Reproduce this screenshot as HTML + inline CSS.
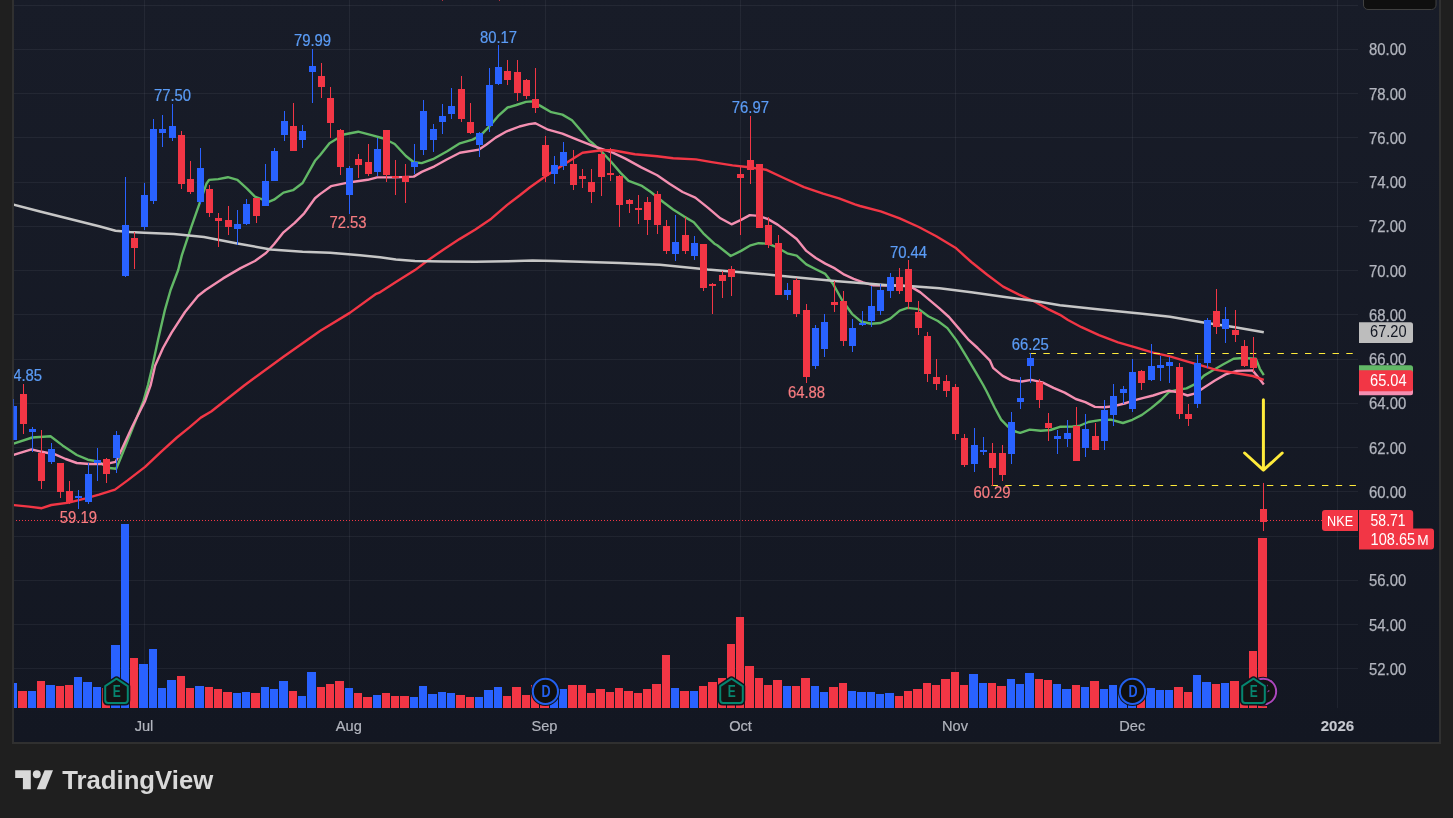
<!DOCTYPE html>
<html lang="en"><head><meta charset="utf-8"><title>NKE chart</title>
<style>html,body{margin:0;padding:0;background:#1f1f1f;overflow:hidden}body{width:1453px;height:818px;position:relative;font-family:"Liberation Sans",sans-serif}svg{display:block;position:absolute;left:0;top:0;will-change:transform}text{font-family:"Liberation Sans",sans-serif}</style>
</head><body>
<svg width="1453" height="818" viewBox="0 0 1453 818">
<defs><linearGradient id="bg" x1="0" y1="0" x2="0" y2="1"><stop offset="0" stop-color="#181c28"/><stop offset="1" stop-color="#131722"/></linearGradient>
<clipPath id="pane"><rect x="14" y="0" width="1344" height="708"/></clipPath></defs>
<rect x="0" y="0" width="1453" height="818" fill="#1f1f1f"/>
<rect x="12" y="-4" width="1429" height="748" fill="#303030" shape-rendering="crispEdges"/>
<rect x="14" y="-4" width="1425" height="746" fill="url(#bg)" shape-rendering="crispEdges"/>
<g stroke="rgba(240,243,250,0.06)" stroke-width="1" shape-rendering="crispEdges">
<line x1="14" y1="5.5" x2="1358" y2="5.5"/>
<line x1="14" y1="49.5" x2="1358" y2="49.5"/>
<line x1="14" y1="93.5" x2="1358" y2="93.5"/>
<line x1="14" y1="137.5" x2="1358" y2="137.5"/>
<line x1="14" y1="182.5" x2="1358" y2="182.5"/>
<line x1="14" y1="226.5" x2="1358" y2="226.5"/>
<line x1="14" y1="270.5" x2="1358" y2="270.5"/>
<line x1="14" y1="314.5" x2="1358" y2="314.5"/>
<line x1="14" y1="359.5" x2="1358" y2="359.5"/>
<line x1="14" y1="403.5" x2="1358" y2="403.5"/>
<line x1="14" y1="447.5" x2="1358" y2="447.5"/>
<line x1="14" y1="491.5" x2="1358" y2="491.5"/>
<line x1="14" y1="536.5" x2="1358" y2="536.5"/>
<line x1="14" y1="580.5" x2="1358" y2="580.5"/>
<line x1="14" y1="624.5" x2="1358" y2="624.5"/>
<line x1="14" y1="668.5" x2="1358" y2="668.5"/>
<line x1="144.5" y1="0" x2="144.5" y2="708"/>
<line x1="349.5" y1="0" x2="349.5" y2="708"/>
<line x1="545.5" y1="0" x2="545.5" y2="708"/>
<line x1="740.5" y1="0" x2="740.5" y2="708"/>
<line x1="955.5" y1="0" x2="955.5" y2="708"/>
<line x1="1132.5" y1="0" x2="1132.5" y2="708"/>
<line x1="1337.5" y1="0" x2="1337.5" y2="708"/>
</g>
<g shape-rendering="crispEdges" clip-path="url(#pane)">
<rect x="9" y="683" width="8" height="25" fill="#2962ff"/>
<rect x="18" y="691" width="9" height="17" fill="#f23645"/>
<rect x="28" y="691" width="8" height="17" fill="#2962ff"/>
<rect x="37" y="681" width="8" height="27" fill="#f23645"/>
<rect x="46" y="685" width="9" height="23" fill="#2962ff"/>
<rect x="56" y="686" width="8" height="22" fill="#f23645"/>
<rect x="65" y="685" width="8" height="23" fill="#f23645"/>
<rect x="74" y="677" width="8" height="31" fill="#2962ff"/>
<rect x="83" y="682" width="9" height="26" fill="#2962ff"/>
<rect x="93" y="687" width="8" height="21" fill="#2962ff"/>
<rect x="102" y="688" width="8" height="20" fill="#f23645"/>
<rect x="111" y="645" width="9" height="63" fill="#2962ff"/>
<rect x="121" y="524" width="8" height="184" fill="#2962ff"/>
<rect x="130" y="658" width="8" height="50" fill="#f23645"/>
<rect x="139" y="664" width="9" height="44" fill="#2962ff"/>
<rect x="149" y="649" width="8" height="59" fill="#2962ff"/>
<rect x="158" y="688" width="8" height="20" fill="#2962ff"/>
<rect x="167" y="680" width="9" height="28" fill="#2962ff"/>
<rect x="177" y="676" width="8" height="32" fill="#f23645"/>
<rect x="186" y="688" width="8" height="20" fill="#f23645"/>
<rect x="195" y="686" width="9" height="22" fill="#2962ff"/>
<rect x="205" y="687" width="8" height="21" fill="#f23645"/>
<rect x="214" y="689" width="8" height="19" fill="#f23645"/>
<rect x="223" y="692" width="9" height="16" fill="#f23645"/>
<rect x="233" y="693" width="8" height="15" fill="#2962ff"/>
<rect x="242" y="692" width="8" height="16" fill="#2962ff"/>
<rect x="251" y="693" width="9" height="15" fill="#f23645"/>
<rect x="261" y="687" width="8" height="21" fill="#2962ff"/>
<rect x="270" y="689" width="8" height="19" fill="#2962ff"/>
<rect x="279" y="681" width="9" height="27" fill="#2962ff"/>
<rect x="289" y="691" width="8" height="17" fill="#f23645"/>
<rect x="298" y="696" width="8" height="12" fill="#2962ff"/>
<rect x="307" y="672" width="9" height="36" fill="#2962ff"/>
<rect x="317" y="687" width="8" height="21" fill="#f23645"/>
<rect x="326" y="684" width="8" height="24" fill="#f23645"/>
<rect x="335" y="681" width="9" height="27" fill="#f23645"/>
<rect x="345" y="688" width="8" height="20" fill="#2962ff"/>
<rect x="354" y="693" width="8" height="15" fill="#f23645"/>
<rect x="363" y="697" width="9" height="11" fill="#f23645"/>
<rect x="373" y="695" width="8" height="13" fill="#2962ff"/>
<rect x="382" y="693" width="8" height="15" fill="#f23645"/>
<rect x="391" y="696" width="8" height="12" fill="#f23645"/>
<rect x="400" y="696" width="9" height="12" fill="#f23645"/>
<rect x="410" y="697" width="8" height="11" fill="#2962ff"/>
<rect x="419" y="686" width="8" height="22" fill="#2962ff"/>
<rect x="428" y="694" width="9" height="14" fill="#2962ff"/>
<rect x="438" y="692" width="8" height="16" fill="#2962ff"/>
<rect x="447" y="693" width="8" height="15" fill="#2962ff"/>
<rect x="456" y="695" width="9" height="13" fill="#f23645"/>
<rect x="466" y="697" width="8" height="11" fill="#f23645"/>
<rect x="475" y="697" width="8" height="11" fill="#2962ff"/>
<rect x="484" y="690" width="9" height="18" fill="#2962ff"/>
<rect x="494" y="687" width="8" height="21" fill="#2962ff"/>
<rect x="503" y="696" width="8" height="12" fill="#f23645"/>
<rect x="512" y="687" width="9" height="21" fill="#f23645"/>
<rect x="522" y="695" width="8" height="13" fill="#f23645"/>
<rect x="531" y="685" width="8" height="23" fill="#f23645"/>
<rect x="540" y="690" width="9" height="18" fill="#f23645"/>
<rect x="550" y="690" width="8" height="18" fill="#2962ff"/>
<rect x="559" y="689" width="8" height="19" fill="#2962ff"/>
<rect x="568" y="685" width="9" height="23" fill="#f23645"/>
<rect x="578" y="685" width="8" height="23" fill="#f23645"/>
<rect x="587" y="693" width="8" height="15" fill="#f23645"/>
<rect x="596" y="689" width="9" height="19" fill="#f23645"/>
<rect x="606" y="692" width="8" height="16" fill="#f23645"/>
<rect x="615" y="688" width="8" height="20" fill="#f23645"/>
<rect x="624" y="691" width="9" height="17" fill="#f23645"/>
<rect x="634" y="693" width="8" height="15" fill="#f23645"/>
<rect x="643" y="689" width="8" height="19" fill="#f23645"/>
<rect x="652" y="684" width="9" height="24" fill="#f23645"/>
<rect x="662" y="655" width="8" height="53" fill="#f23645"/>
<rect x="671" y="688" width="8" height="20" fill="#2962ff"/>
<rect x="680" y="691" width="9" height="17" fill="#f23645"/>
<rect x="690" y="691" width="8" height="17" fill="#2962ff"/>
<rect x="699" y="686" width="8" height="22" fill="#f23645"/>
<rect x="708" y="682" width="9" height="26" fill="#f23645"/>
<rect x="718" y="678" width="8" height="30" fill="#f23645"/>
<rect x="727" y="644" width="8" height="64" fill="#f23645"/>
<rect x="736" y="617" width="8" height="91" fill="#f23645"/>
<rect x="745" y="666" width="9" height="42" fill="#f23645"/>
<rect x="755" y="678" width="8" height="30" fill="#f23645"/>
<rect x="764" y="685" width="8" height="23" fill="#f23645"/>
<rect x="773" y="680" width="9" height="28" fill="#f23645"/>
<rect x="783" y="686" width="8" height="22" fill="#2962ff"/>
<rect x="792" y="686" width="8" height="22" fill="#f23645"/>
<rect x="801" y="678" width="9" height="30" fill="#f23645"/>
<rect x="811" y="686" width="8" height="22" fill="#2962ff"/>
<rect x="820" y="692" width="8" height="16" fill="#2962ff"/>
<rect x="829" y="687" width="9" height="21" fill="#f23645"/>
<rect x="839" y="683" width="8" height="25" fill="#f23645"/>
<rect x="848" y="691" width="8" height="17" fill="#2962ff"/>
<rect x="857" y="692" width="9" height="16" fill="#2962ff"/>
<rect x="867" y="692" width="8" height="16" fill="#2962ff"/>
<rect x="876" y="694" width="8" height="14" fill="#2962ff"/>
<rect x="885" y="693" width="9" height="15" fill="#2962ff"/>
<rect x="895" y="696" width="8" height="12" fill="#f23645"/>
<rect x="904" y="691" width="8" height="17" fill="#f23645"/>
<rect x="913" y="689" width="9" height="19" fill="#f23645"/>
<rect x="923" y="683" width="8" height="25" fill="#f23645"/>
<rect x="932" y="685" width="8" height="23" fill="#f23645"/>
<rect x="941" y="679" width="9" height="29" fill="#f23645"/>
<rect x="951" y="672" width="8" height="36" fill="#f23645"/>
<rect x="960" y="685" width="8" height="23" fill="#f23645"/>
<rect x="969" y="674" width="9" height="34" fill="#2962ff"/>
<rect x="979" y="683" width="8" height="25" fill="#2962ff"/>
<rect x="988" y="683" width="8" height="25" fill="#f23645"/>
<rect x="997" y="686" width="9" height="22" fill="#f23645"/>
<rect x="1007" y="679" width="8" height="29" fill="#2962ff"/>
<rect x="1016" y="684" width="8" height="24" fill="#2962ff"/>
<rect x="1025" y="673" width="9" height="35" fill="#2962ff"/>
<rect x="1035" y="679" width="8" height="29" fill="#f23645"/>
<rect x="1044" y="680" width="8" height="28" fill="#f23645"/>
<rect x="1053" y="684" width="8" height="24" fill="#2962ff"/>
<rect x="1062" y="689" width="9" height="19" fill="#2962ff"/>
<rect x="1072" y="685" width="8" height="23" fill="#f23645"/>
<rect x="1081" y="687" width="8" height="21" fill="#2962ff"/>
<rect x="1090" y="681" width="9" height="27" fill="#f23645"/>
<rect x="1100" y="689" width="8" height="19" fill="#2962ff"/>
<rect x="1109" y="685" width="8" height="23" fill="#2962ff"/>
<rect x="1118" y="690" width="9" height="18" fill="#2962ff"/>
<rect x="1128" y="690" width="8" height="18" fill="#2962ff"/>
<rect x="1137" y="690" width="8" height="18" fill="#f23645"/>
<rect x="1146" y="688" width="9" height="20" fill="#2962ff"/>
<rect x="1156" y="690" width="8" height="18" fill="#2962ff"/>
<rect x="1165" y="690" width="8" height="18" fill="#2962ff"/>
<rect x="1174" y="687" width="9" height="21" fill="#f23645"/>
<rect x="1184" y="692" width="8" height="16" fill="#f23645"/>
<rect x="1193" y="675" width="8" height="33" fill="#2962ff"/>
<rect x="1202" y="682" width="9" height="26" fill="#2962ff"/>
<rect x="1212" y="684" width="8" height="24" fill="#f23645"/>
<rect x="1221" y="683" width="8" height="25" fill="#2962ff"/>
<rect x="1230" y="681" width="9" height="27" fill="#f23645"/>
<rect x="1240" y="686" width="8" height="22" fill="#f23645"/>
<rect x="1249" y="651" width="8" height="57" fill="#f23645"/>
<rect x="1258" y="538" width="9" height="170" fill="#f23645"/>
</g>
<polyline points="13.0,443.8 32.3,437.5 50.5,436.2 62.5,445.4 76.8,455.0 87.9,459.7 99.0,461.6 107.0,467.7 116.2,468.8 121.3,456.5 130.8,432.7 143.5,400.9 148.0,385.0 151.8,369.0 158.0,340.0 165.0,309.6 170.6,290.0 178.2,270.0 181.8,255.4 191.3,226.8 200.9,199.7 206.4,183.8 209.1,179.9 218.3,179.1 227.9,177.2 237.4,179.9 247.0,188.6 254.9,196.6 261.3,199.0 269.2,201.7 274.0,199.7 283.5,192.6 293.0,190.2 302.6,183.0 315.0,160.8 320.0,155.2 329.5,143.3 343.8,134.5 358.2,131.7 372.5,135.3 383.6,138.5 394.7,144.0 405.9,156.0 413.8,162.3 421.7,163.1 432.9,159.2 447.2,151.2 459.9,143.3 472.6,139.6 480.6,135.3 488.5,127.4 498.0,116.2 507.6,107.5 516.3,105.0 525.9,101.9 532.2,101.4 541.7,106.6 551.3,112.2 562.4,114.6 572.0,120.2 581.5,131.3 589.4,140.8 592.0,142.7 601.5,151.5 611.1,161.8 620.6,172.9 628.6,180.9 641.3,185.6 650.8,192.0 663.5,202.3 673.1,209.5 684.2,216.6 693.8,222.2 703.3,233.3 714.4,243.7 717.2,245.3 730.7,256.0 741.1,250.9 750.6,245.3 758.6,243.2 768.1,243.7 777.6,247.7 787.2,253.3 796.7,255.6 806.3,264.4 815.8,269.2 825.3,273.9 833.3,284.3 842.0,300.0 852.0,313.8 861.5,321.8 871.1,323.7 880.6,323.0 890.2,318.6 899.7,310.6 907.6,307.9 918.8,309.1 928.3,316.2 937.9,321.0 947.4,328.1 956.9,340.9 966.5,356.7 976.0,372.6 983.2,385.0 986.8,391.8 994.7,407.7 1001.1,419.6 1008.2,426.8 1015.4,431.5 1020.2,432.8 1029.7,429.6 1040.8,430.7 1050.4,430.0 1059.9,426.8 1072.6,426.5 1079.0,426.0 1088.5,422.0 1099.7,420.1 1110.8,419.6 1122.9,423.0 1132.4,419.8 1142.0,414.9 1151.5,407.9 1161.0,400.0 1169.0,392.0 1176.9,390.0 1186.5,388.4 1196.0,383.6 1204.0,375.6 1211.3,371.2 1222.5,364.8 1233.6,358.8 1243.1,358.0 1255.9,358.8 1259.8,368.8 1263.8,375.2" fill="none" stroke="#62b866" stroke-width="2.4" stroke-linejoin="round" stroke-linecap="butt" clip-path="url(#pane)"/>
<polyline points="13.0,455.0 31.5,449.4 41.8,451.8 54.5,454.2 65.6,459.0 76.8,463.0 89.5,464.0 105.4,464.0 115.7,461.8 121.3,450.2 132.4,426.3 145.1,400.9 150.7,385.0 155.1,365.7 163.0,348.0 171.6,332.7 185.0,312.0 198.0,296.0 205.6,290.0 223.1,278.4 240.6,268.1 254.9,261.0 266.0,253.0 274.0,244.3 283.5,232.3 294.7,222.8 304.2,213.3 315.0,198.2 320.0,194.1 331.0,186.2 350.2,182.2 367.7,179.8 377.2,177.4 394.7,177.4 413.8,176.6 421.7,171.9 434.5,166.3 447.2,159.2 459.9,152.8 479.0,149.6 486.1,144.8 495.6,137.6 506.8,131.3 519.5,126.5 529.0,124.1 535.4,123.3 548.1,129.7 562.4,133.7 577.7,139.9 593.6,146.2 612.7,152.6 625.4,158.6 641.3,167.4 657.2,175.3 669.9,184.1 682.6,192.0 695.3,197.6 708.1,207.9 720.4,218.3 731.5,224.3 741.1,219.9 749.8,215.1 758.6,215.9 768.1,219.1 777.6,224.6 787.2,231.8 796.7,239.0 806.3,250.9 815.8,258.0 825.3,263.6 834.9,268.4 844.4,274.7 853.6,278.8 863.1,282.3 872.7,285.2 885.4,285.5 901.3,285.2 912.4,287.6 920.4,292.4 929.9,300.3 939.4,308.3 949.0,317.0 958.5,328.1 968.1,339.3 977.6,348.0 990.0,360.7 993.1,367.9 1002.7,375.9 1010.6,379.9 1021.7,381.5 1031.3,379.9 1042.4,382.3 1053.5,387.8 1064.7,392.6 1075.8,399.0 1085.3,402.1 1094.9,406.9 1104.4,407.2 1114.0,406.1 1124.5,403.5 1134.0,400.3 1143.5,397.9 1153.1,395.5 1162.6,392.3 1169.0,390.7 1178.5,392.3 1187.5,395.5 1195.4,393.4 1203.4,387.9 1214.5,380.7 1225.6,374.4 1236.8,370.9 1252.7,370.4 1259.0,378.3 1263.8,384.4" fill="none" stroke="#f48fb1" stroke-width="2.4" stroke-linejoin="round" stroke-linecap="butt" clip-path="url(#pane)"/>
<polyline points="13.0,505.0 29.0,506.6 41.8,508.2 51.3,505.0 68.8,502.6 84.7,498.7 99.0,494.7 115.0,489.6 127.6,480.4 145.1,466.9 161.0,451.8 176.9,437.5 189.7,427.1 200.8,417.6 211.2,411.5 244.2,385.5 283.8,356.5 320.0,331.0 349.8,312.9 376.2,293.8 380.0,292.3 395.9,282.0 415.0,270.1 427.7,260.5 443.6,249.4 459.5,239.1 475.4,229.5 491.3,218.7 507.2,204.9 519.9,195.3 530.0,187.2 545.9,176.1 561.8,165.8 574.5,157.8 582.5,152.7 601.5,150.3 612.7,150.3 634.9,154.2 657.2,156.2 673.1,158.3 695.9,159.4 711.8,162.1 732.5,165.4 746.8,167.0 765.9,169.7 784.9,178.5 804.0,187.2 823.1,193.6 839.0,198.3 854.9,204.4 860.0,206.0 880.7,211.4 899.7,218.3 918.8,227.0 936.3,236.2 955.4,247.7 971.3,262.0 987.2,274.7 1003.1,286.6 1019.0,294.6 1034.9,301.7 1047.6,308.9 1060.0,314.8 1068.0,320.0 1081.5,327.2 1099.0,335.1 1118.1,342.3 1137.2,347.8 1153.1,352.6 1169.0,356.2 1187.5,361.6 1201.8,365.6 1216.1,369.9 1233.6,372.8 1252.7,376.0 1263.8,379.9" fill="none" stroke="#f23645" stroke-width="2.4" stroke-linejoin="round" stroke-linecap="butt" clip-path="url(#pane)"/>
<polyline points="13.0,204.5 40.0,211.5 70.0,219.0 100.0,226.5 115.5,230.7 130.0,232.0 144.4,232.8 173.8,233.9 204.0,237.1 237.4,243.5 270.8,249.5 302.6,251.7 330.0,252.8 360.0,255.3 380.0,257.3 395.9,259.4 415.0,261.0 443.6,261.6 475.4,261.8 507.2,261.3 532.6,260.5 554.9,261.0 580.0,261.8 620.0,263.0 660.0,264.7 707.7,269.6 755.4,273.4 803.1,277.9 837.7,281.2 860.0,283.0 891.8,285.5 912.5,286.3 939.5,288.2 971.3,292.2 1003.1,296.7 1034.9,301.0 1060.0,305.2 1100.0,309.5 1140.0,313.6 1170.0,316.7 1201.8,322.2 1233.6,327.0 1263.8,332.2" fill="none" stroke="#c6c6c6" stroke-width="2.5" stroke-linejoin="round" stroke-linecap="butt" clip-path="url(#pane)"/>
<line x1="1029.6" y1="353.5" x2="1358" y2="353.5" stroke="#ffeb3b" stroke-width="1.15" stroke-dasharray="6.4 7.37"/>
<line x1="991.5" y1="485.5" x2="1358" y2="485.5" stroke="#ffeb3b" stroke-width="1.15" stroke-dasharray="6.4 7.37"/>
<g shape-rendering="crispEdges" clip-path="url(#pane)">
<rect x="13" y="399" width="1" height="41" fill="#2962ff"/>
<rect x="10" y="406" width="7" height="34" fill="#2962ff"/>
<rect x="23" y="384" width="1" height="50" fill="#f23645"/>
<rect x="20" y="394" width="7" height="30" fill="#f23645"/>
<rect x="32" y="427" width="1" height="25" fill="#2962ff"/>
<rect x="29" y="429" width="7" height="3" fill="#2962ff"/>
<rect x="41" y="430" width="1" height="59" fill="#f23645"/>
<rect x="38" y="453" width="7" height="28" fill="#f23645"/>
<rect x="51" y="443" width="1" height="21" fill="#2962ff"/>
<rect x="48" y="449" width="7" height="13" fill="#2962ff"/>
<rect x="60" y="463" width="1" height="35" fill="#f23645"/>
<rect x="57" y="463" width="7" height="29" fill="#f23645"/>
<rect x="69" y="481" width="1" height="23" fill="#f23645"/>
<rect x="66" y="491" width="7" height="11" fill="#f23645"/>
<rect x="78" y="490" width="1" height="19" fill="#2962ff"/>
<rect x="75" y="496" width="7" height="2" fill="#2962ff"/>
<rect x="88" y="463" width="1" height="41" fill="#2962ff"/>
<rect x="85" y="474" width="7" height="28" fill="#2962ff"/>
<rect x="97" y="448" width="1" height="33" fill="#2962ff"/>
<rect x="94" y="460" width="7" height="3" fill="#2962ff"/>
<rect x="106" y="458" width="1" height="25" fill="#f23645"/>
<rect x="103" y="459" width="7" height="15" fill="#f23645"/>
<rect x="116" y="431" width="1" height="42" fill="#2962ff"/>
<rect x="113" y="435" width="7" height="23" fill="#2962ff"/>
<rect x="125" y="177" width="1" height="100" fill="#2962ff"/>
<rect x="122" y="225" width="7" height="51" fill="#2962ff"/>
<rect x="134" y="232" width="1" height="37" fill="#f23645"/>
<rect x="131" y="238" width="7" height="10" fill="#f23645"/>
<rect x="144" y="183" width="1" height="47" fill="#2962ff"/>
<rect x="141" y="195" width="7" height="32" fill="#2962ff"/>
<rect x="153" y="119" width="1" height="85" fill="#2962ff"/>
<rect x="150" y="129" width="7" height="72" fill="#2962ff"/>
<rect x="162" y="115" width="1" height="32" fill="#2962ff"/>
<rect x="159" y="129" width="7" height="4" fill="#2962ff"/>
<rect x="172" y="104" width="1" height="37" fill="#2962ff"/>
<rect x="169" y="126" width="7" height="12" fill="#2962ff"/>
<rect x="181" y="131" width="1" height="58" fill="#f23645"/>
<rect x="178" y="135" width="7" height="49" fill="#f23645"/>
<rect x="190" y="161" width="1" height="33" fill="#f23645"/>
<rect x="187" y="179" width="7" height="13" fill="#f23645"/>
<rect x="200" y="148" width="1" height="56" fill="#2962ff"/>
<rect x="197" y="168" width="7" height="34" fill="#2962ff"/>
<rect x="209" y="185" width="1" height="32" fill="#f23645"/>
<rect x="206" y="189" width="7" height="24" fill="#f23645"/>
<rect x="218" y="213" width="1" height="34" fill="#f23645"/>
<rect x="215" y="218" width="7" height="3" fill="#f23645"/>
<rect x="228" y="206" width="1" height="29" fill="#f23645"/>
<rect x="225" y="220" width="7" height="7" fill="#f23645"/>
<rect x="237" y="210" width="1" height="35" fill="#2962ff"/>
<rect x="234" y="224" width="7" height="5" fill="#2962ff"/>
<rect x="246" y="199" width="1" height="26" fill="#2962ff"/>
<rect x="243" y="204" width="7" height="20" fill="#2962ff"/>
<rect x="256" y="198" width="1" height="25" fill="#f23645"/>
<rect x="253" y="198" width="7" height="18" fill="#f23645"/>
<rect x="265" y="164" width="1" height="42" fill="#2962ff"/>
<rect x="262" y="181" width="7" height="25" fill="#2962ff"/>
<rect x="274" y="148" width="1" height="33" fill="#2962ff"/>
<rect x="271" y="151" width="7" height="30" fill="#2962ff"/>
<rect x="284" y="111" width="1" height="30" fill="#2962ff"/>
<rect x="281" y="121" width="7" height="14" fill="#2962ff"/>
<rect x="293" y="103" width="1" height="48" fill="#f23645"/>
<rect x="290" y="126" width="7" height="25" fill="#f23645"/>
<rect x="302" y="125" width="1" height="23" fill="#2962ff"/>
<rect x="299" y="131" width="7" height="9" fill="#2962ff"/>
<rect x="312" y="49" width="1" height="54" fill="#2962ff"/>
<rect x="309" y="66" width="7" height="6" fill="#2962ff"/>
<rect x="321" y="63" width="1" height="35" fill="#f23645"/>
<rect x="318" y="76" width="7" height="11" fill="#f23645"/>
<rect x="330" y="87" width="1" height="51" fill="#f23645"/>
<rect x="327" y="98" width="7" height="25" fill="#f23645"/>
<rect x="340" y="129" width="1" height="46" fill="#f23645"/>
<rect x="337" y="130" width="7" height="37" fill="#f23645"/>
<rect x="349" y="166" width="1" height="48" fill="#2962ff"/>
<rect x="346" y="168" width="7" height="27" fill="#2962ff"/>
<rect x="358" y="154" width="1" height="24" fill="#f23645"/>
<rect x="355" y="159" width="7" height="6" fill="#f23645"/>
<rect x="368" y="144" width="1" height="32" fill="#f23645"/>
<rect x="365" y="162" width="7" height="12" fill="#f23645"/>
<rect x="377" y="138" width="1" height="38" fill="#2962ff"/>
<rect x="374" y="149" width="7" height="23" fill="#2962ff"/>
<rect x="386" y="130" width="1" height="52" fill="#f23645"/>
<rect x="383" y="130" width="7" height="45" fill="#f23645"/>
<rect x="395" y="160" width="1" height="35" fill="#f23645"/>
<rect x="392" y="176" width="7" height="2" fill="#f23645"/>
<rect x="405" y="164" width="1" height="39" fill="#f23645"/>
<rect x="402" y="176" width="7" height="6" fill="#f23645"/>
<rect x="414" y="144" width="1" height="30" fill="#2962ff"/>
<rect x="411" y="162" width="7" height="5" fill="#2962ff"/>
<rect x="423" y="100" width="1" height="55" fill="#2962ff"/>
<rect x="420" y="111" width="7" height="39" fill="#2962ff"/>
<rect x="433" y="124" width="1" height="28" fill="#2962ff"/>
<rect x="430" y="129" width="7" height="11" fill="#2962ff"/>
<rect x="442" y="104" width="1" height="30" fill="#2962ff"/>
<rect x="439" y="116" width="7" height="6" fill="#2962ff"/>
<rect x="451" y="88" width="1" height="31" fill="#2962ff"/>
<rect x="448" y="106" width="7" height="8" fill="#2962ff"/>
<rect x="461" y="76" width="1" height="46" fill="#f23645"/>
<rect x="458" y="89" width="7" height="30" fill="#f23645"/>
<rect x="470" y="103" width="1" height="31" fill="#f23645"/>
<rect x="467" y="122" width="7" height="11" fill="#f23645"/>
<rect x="479" y="132" width="1" height="25" fill="#2962ff"/>
<rect x="476" y="133" width="7" height="12" fill="#2962ff"/>
<rect x="489" y="68" width="1" height="64" fill="#2962ff"/>
<rect x="486" y="85" width="7" height="41" fill="#2962ff"/>
<rect x="498" y="45" width="1" height="40" fill="#2962ff"/>
<rect x="495" y="67" width="7" height="17" fill="#2962ff"/>
<rect x="507" y="60" width="1" height="25" fill="#f23645"/>
<rect x="504" y="71" width="7" height="9" fill="#f23645"/>
<rect x="517" y="60" width="1" height="41" fill="#f23645"/>
<rect x="514" y="72" width="7" height="21" fill="#f23645"/>
<rect x="526" y="79" width="1" height="20" fill="#f23645"/>
<rect x="523" y="80" width="7" height="16" fill="#f23645"/>
<rect x="535" y="68" width="1" height="45" fill="#f23645"/>
<rect x="532" y="99" width="7" height="9" fill="#f23645"/>
<rect x="545" y="136" width="1" height="46" fill="#f23645"/>
<rect x="542" y="145" width="7" height="31" fill="#f23645"/>
<rect x="554" y="156" width="1" height="28" fill="#2962ff"/>
<rect x="551" y="165" width="7" height="9" fill="#2962ff"/>
<rect x="563" y="142" width="1" height="28" fill="#2962ff"/>
<rect x="560" y="152" width="7" height="14" fill="#2962ff"/>
<rect x="573" y="150" width="1" height="40" fill="#f23645"/>
<rect x="570" y="164" width="7" height="21" fill="#f23645"/>
<rect x="582" y="169" width="1" height="19" fill="#f23645"/>
<rect x="579" y="176" width="7" height="3" fill="#f23645"/>
<rect x="591" y="169" width="1" height="34" fill="#f23645"/>
<rect x="588" y="182" width="7" height="10" fill="#f23645"/>
<rect x="601" y="149" width="1" height="47" fill="#f23645"/>
<rect x="598" y="154" width="7" height="23" fill="#f23645"/>
<rect x="610" y="148" width="1" height="33" fill="#f23645"/>
<rect x="607" y="173" width="7" height="2" fill="#f23645"/>
<rect x="619" y="175" width="1" height="52" fill="#f23645"/>
<rect x="616" y="176" width="7" height="29" fill="#f23645"/>
<rect x="629" y="199" width="1" height="14" fill="#f23645"/>
<rect x="626" y="200" width="7" height="4" fill="#f23645"/>
<rect x="638" y="195" width="1" height="29" fill="#f23645"/>
<rect x="635" y="208" width="7" height="2" fill="#f23645"/>
<rect x="647" y="197" width="1" height="38" fill="#f23645"/>
<rect x="644" y="202" width="7" height="18" fill="#f23645"/>
<rect x="657" y="191" width="1" height="43" fill="#f23645"/>
<rect x="654" y="194" width="7" height="31" fill="#f23645"/>
<rect x="666" y="220" width="1" height="34" fill="#f23645"/>
<rect x="663" y="226" width="7" height="25" fill="#f23645"/>
<rect x="675" y="215" width="1" height="46" fill="#2962ff"/>
<rect x="672" y="242" width="7" height="12" fill="#2962ff"/>
<rect x="685" y="217" width="1" height="37" fill="#f23645"/>
<rect x="682" y="235" width="7" height="16" fill="#f23645"/>
<rect x="694" y="236" width="1" height="24" fill="#2962ff"/>
<rect x="691" y="243" width="7" height="13" fill="#2962ff"/>
<rect x="703" y="244" width="1" height="47" fill="#f23645"/>
<rect x="700" y="244" width="7" height="44" fill="#f23645"/>
<rect x="712" y="283" width="1" height="31" fill="#f23645"/>
<rect x="709" y="284" width="7" height="2" fill="#f23645"/>
<rect x="722" y="271" width="1" height="27" fill="#f23645"/>
<rect x="719" y="275" width="7" height="6" fill="#f23645"/>
<rect x="731" y="266" width="1" height="30" fill="#f23645"/>
<rect x="728" y="269" width="7" height="8" fill="#f23645"/>
<rect x="740" y="167" width="1" height="68" fill="#f23645"/>
<rect x="737" y="174" width="7" height="4" fill="#f23645"/>
<rect x="750" y="116" width="1" height="68" fill="#f23645"/>
<rect x="747" y="160" width="7" height="10" fill="#f23645"/>
<rect x="759" y="164" width="1" height="64" fill="#f23645"/>
<rect x="756" y="164" width="7" height="64" fill="#f23645"/>
<rect x="768" y="217" width="1" height="31" fill="#f23645"/>
<rect x="765" y="225" width="7" height="20" fill="#f23645"/>
<rect x="778" y="235" width="1" height="60" fill="#f23645"/>
<rect x="775" y="243" width="7" height="52" fill="#f23645"/>
<rect x="787" y="283" width="1" height="17" fill="#2962ff"/>
<rect x="784" y="290" width="7" height="5" fill="#2962ff"/>
<rect x="796" y="278" width="1" height="39" fill="#f23645"/>
<rect x="793" y="280" width="7" height="34" fill="#f23645"/>
<rect x="806" y="304" width="1" height="79" fill="#f23645"/>
<rect x="803" y="310" width="7" height="67" fill="#f23645"/>
<rect x="815" y="325" width="1" height="44" fill="#2962ff"/>
<rect x="812" y="328" width="7" height="38" fill="#2962ff"/>
<rect x="824" y="314" width="1" height="43" fill="#2962ff"/>
<rect x="821" y="322" width="7" height="27" fill="#2962ff"/>
<rect x="834" y="281" width="1" height="31" fill="#f23645"/>
<rect x="831" y="302" width="7" height="3" fill="#f23645"/>
<rect x="843" y="291" width="1" height="55" fill="#f23645"/>
<rect x="840" y="301" width="7" height="40" fill="#f23645"/>
<rect x="852" y="319" width="1" height="33" fill="#2962ff"/>
<rect x="849" y="328" width="7" height="18" fill="#2962ff"/>
<rect x="862" y="311" width="1" height="15" fill="#2962ff"/>
<rect x="859" y="323" width="7" height="2" fill="#2962ff"/>
<rect x="871" y="286" width="1" height="41" fill="#2962ff"/>
<rect x="868" y="306" width="7" height="15" fill="#2962ff"/>
<rect x="880" y="284" width="1" height="31" fill="#2962ff"/>
<rect x="877" y="290" width="7" height="21" fill="#2962ff"/>
<rect x="890" y="273" width="1" height="25" fill="#2962ff"/>
<rect x="887" y="277" width="7" height="14" fill="#2962ff"/>
<rect x="899" y="268" width="1" height="26" fill="#f23645"/>
<rect x="896" y="277" width="7" height="14" fill="#f23645"/>
<rect x="908" y="260" width="1" height="49" fill="#f23645"/>
<rect x="905" y="269" width="7" height="33" fill="#f23645"/>
<rect x="918" y="301" width="1" height="34" fill="#f23645"/>
<rect x="915" y="312" width="7" height="16" fill="#f23645"/>
<rect x="927" y="332" width="1" height="50" fill="#f23645"/>
<rect x="924" y="336" width="7" height="38" fill="#f23645"/>
<rect x="936" y="359" width="1" height="31" fill="#f23645"/>
<rect x="933" y="377" width="7" height="7" fill="#f23645"/>
<rect x="946" y="375" width="1" height="22" fill="#f23645"/>
<rect x="943" y="381" width="7" height="10" fill="#f23645"/>
<rect x="955" y="384" width="1" height="56" fill="#f23645"/>
<rect x="952" y="387" width="7" height="47" fill="#f23645"/>
<rect x="964" y="434" width="1" height="33" fill="#f23645"/>
<rect x="961" y="438" width="7" height="27" fill="#f23645"/>
<rect x="974" y="428" width="1" height="44" fill="#2962ff"/>
<rect x="971" y="445" width="7" height="19" fill="#2962ff"/>
<rect x="983" y="437" width="1" height="18" fill="#2962ff"/>
<rect x="980" y="450" width="7" height="2" fill="#2962ff"/>
<rect x="992" y="443" width="1" height="43" fill="#f23645"/>
<rect x="989" y="453" width="7" height="15" fill="#f23645"/>
<rect x="1002" y="445" width="1" height="36" fill="#f23645"/>
<rect x="999" y="453" width="7" height="22" fill="#f23645"/>
<rect x="1011" y="412" width="1" height="52" fill="#2962ff"/>
<rect x="1008" y="422" width="7" height="32" fill="#2962ff"/>
<rect x="1020" y="377" width="1" height="32" fill="#2962ff"/>
<rect x="1017" y="398" width="7" height="4" fill="#2962ff"/>
<rect x="1030" y="353" width="1" height="30" fill="#2962ff"/>
<rect x="1027" y="358" width="7" height="8" fill="#2962ff"/>
<rect x="1039" y="379" width="1" height="29" fill="#f23645"/>
<rect x="1036" y="382" width="7" height="18" fill="#f23645"/>
<rect x="1048" y="413" width="1" height="28" fill="#f23645"/>
<rect x="1045" y="423" width="7" height="5" fill="#f23645"/>
<rect x="1057" y="430" width="1" height="24" fill="#2962ff"/>
<rect x="1054" y="436" width="7" height="3" fill="#2962ff"/>
<rect x="1067" y="420" width="1" height="27" fill="#2962ff"/>
<rect x="1064" y="433" width="7" height="6" fill="#2962ff"/>
<rect x="1076" y="407" width="1" height="54" fill="#f23645"/>
<rect x="1073" y="426" width="7" height="35" fill="#f23645"/>
<rect x="1085" y="414" width="1" height="43" fill="#2962ff"/>
<rect x="1082" y="429" width="7" height="19" fill="#2962ff"/>
<rect x="1095" y="423" width="1" height="27" fill="#f23645"/>
<rect x="1092" y="436" width="7" height="14" fill="#f23645"/>
<rect x="1104" y="400" width="1" height="50" fill="#2962ff"/>
<rect x="1101" y="410" width="7" height="31" fill="#2962ff"/>
<rect x="1113" y="384" width="1" height="42" fill="#2962ff"/>
<rect x="1110" y="396" width="7" height="19" fill="#2962ff"/>
<rect x="1123" y="386" width="1" height="18" fill="#2962ff"/>
<rect x="1120" y="389" width="7" height="4" fill="#2962ff"/>
<rect x="1132" y="359" width="1" height="53" fill="#2962ff"/>
<rect x="1129" y="372" width="7" height="37" fill="#2962ff"/>
<rect x="1141" y="370" width="1" height="20" fill="#f23645"/>
<rect x="1138" y="371" width="7" height="12" fill="#f23645"/>
<rect x="1151" y="344" width="1" height="37" fill="#2962ff"/>
<rect x="1148" y="366" width="7" height="14" fill="#2962ff"/>
<rect x="1160" y="356" width="1" height="25" fill="#2962ff"/>
<rect x="1157" y="365" width="7" height="3" fill="#2962ff"/>
<rect x="1169" y="357" width="1" height="26" fill="#2962ff"/>
<rect x="1166" y="362" width="7" height="4" fill="#2962ff"/>
<rect x="1179" y="363" width="1" height="56" fill="#f23645"/>
<rect x="1176" y="367" width="7" height="47" fill="#f23645"/>
<rect x="1188" y="404" width="1" height="22" fill="#f23645"/>
<rect x="1185" y="414" width="7" height="5" fill="#f23645"/>
<rect x="1197" y="355" width="1" height="53" fill="#2962ff"/>
<rect x="1194" y="363" width="7" height="41" fill="#2962ff"/>
<rect x="1207" y="318" width="1" height="50" fill="#2962ff"/>
<rect x="1204" y="320" width="7" height="43" fill="#2962ff"/>
<rect x="1216" y="289" width="1" height="45" fill="#f23645"/>
<rect x="1213" y="311" width="7" height="16" fill="#f23645"/>
<rect x="1225" y="307" width="1" height="36" fill="#2962ff"/>
<rect x="1222" y="319" width="7" height="10" fill="#2962ff"/>
<rect x="1235" y="310" width="1" height="32" fill="#f23645"/>
<rect x="1232" y="330" width="7" height="5" fill="#f23645"/>
<rect x="1244" y="340" width="1" height="27" fill="#f23645"/>
<rect x="1241" y="346" width="7" height="20" fill="#f23645"/>
<rect x="1253" y="337" width="1" height="35" fill="#f23645"/>
<rect x="1250" y="358" width="7" height="10" fill="#f23645"/>
<rect x="1263" y="483" width="1" height="48" fill="#f23645"/>
<rect x="1260" y="509" width="7" height="13" fill="#f23645"/>
</g>
<rect x="13" y="399" width="1" height="41" fill="#2962ff" opacity="0.6" shape-rendering="crispEdges"/>
<path d="M1263.4 399.8 L1263.4 470 M1244.6 453 L1263.4 470.2 L1282.2 453" fill="none" stroke="#ffeb3b" stroke-width="3" stroke-linecap="round" stroke-linejoin="round"/>
<line x1="16" y1="520.5" x2="1322" y2="520.5" stroke="#f23645" stroke-width="1" stroke-dasharray="1 2" shape-rendering="crispEdges"/>
<text x="23.5" y="381.0" font-size="15.7" fill="#5b9cf6" stroke="#5b9cf6" stroke-width="0.2" text-anchor="middle" textLength="37.2" lengthAdjust="spacingAndGlyphs" clip-path="url(#pane)">64.85</text>
<text x="172.5" y="100.8" font-size="15.7" fill="#5b9cf6" stroke="#5b9cf6" stroke-width="0.2" text-anchor="middle" textLength="37.2" lengthAdjust="spacingAndGlyphs" clip-path="url(#pane)">77.50</text>
<text x="312.5" y="45.7" font-size="15.7" fill="#5b9cf6" stroke="#5b9cf6" stroke-width="0.2" text-anchor="middle" textLength="37.2" lengthAdjust="spacingAndGlyphs" clip-path="url(#pane)">79.99</text>
<text x="498.5" y="42.7" font-size="15.7" fill="#5b9cf6" stroke="#5b9cf6" stroke-width="0.2" text-anchor="middle" textLength="37.2" lengthAdjust="spacingAndGlyphs" clip-path="url(#pane)">80.17</text>
<text x="750.4" y="112.6" font-size="15.7" fill="#5b9cf6" stroke="#5b9cf6" stroke-width="0.2" text-anchor="middle" textLength="37.2" lengthAdjust="spacingAndGlyphs" clip-path="url(#pane)">76.97</text>
<text x="908.5" y="257.7" font-size="15.7" fill="#5b9cf6" stroke="#5b9cf6" stroke-width="0.2" text-anchor="middle" textLength="37.2" lengthAdjust="spacingAndGlyphs" clip-path="url(#pane)">70.44</text>
<text x="1030.3" y="349.8" font-size="15.7" fill="#5b9cf6" stroke="#5b9cf6" stroke-width="0.2" text-anchor="middle" textLength="37.2" lengthAdjust="spacingAndGlyphs" clip-path="url(#pane)">66.25</text>
<text x="78.4" y="522.7" font-size="15.7" fill="#f77c80" stroke="#f77c80" stroke-width="0.2" text-anchor="middle" textLength="37.2" lengthAdjust="spacingAndGlyphs" clip-path="url(#pane)">59.19</text>
<text x="348.0" y="228.0" font-size="15.7" fill="#f77c80" stroke="#f77c80" stroke-width="0.2" text-anchor="middle" textLength="37.2" lengthAdjust="spacingAndGlyphs" clip-path="url(#pane)">72.53</text>
<text x="806.5" y="398.0" font-size="15.7" fill="#f77c80" stroke="#f77c80" stroke-width="0.2" text-anchor="middle" textLength="37.2" lengthAdjust="spacingAndGlyphs" clip-path="url(#pane)">64.88</text>
<text x="992.0" y="498.0" font-size="15.7" fill="#f77c80" stroke="#f77c80" stroke-width="0.2" text-anchor="middle" textLength="37.2" lengthAdjust="spacingAndGlyphs" clip-path="url(#pane)">60.29</text>
<g font-size="15.8" fill="#b2b5be" stroke="#b2b5be" stroke-width="0.25">
<text x="1369" y="55.3" textLength="37.2" lengthAdjust="spacingAndGlyphs">80.00</text>
<text x="1369" y="99.6" textLength="37.2" lengthAdjust="spacingAndGlyphs">78.00</text>
<text x="1369" y="143.8" textLength="37.2" lengthAdjust="spacingAndGlyphs">76.00</text>
<text x="1369" y="188.1" textLength="37.2" lengthAdjust="spacingAndGlyphs">74.00</text>
<text x="1369" y="232.3" textLength="37.2" lengthAdjust="spacingAndGlyphs">72.00</text>
<text x="1369" y="276.6" textLength="37.2" lengthAdjust="spacingAndGlyphs">70.00</text>
<text x="1369" y="320.9" textLength="37.2" lengthAdjust="spacingAndGlyphs">68.00</text>
<text x="1369" y="365.1" textLength="37.2" lengthAdjust="spacingAndGlyphs">66.00</text>
<text x="1369" y="409.4" textLength="37.2" lengthAdjust="spacingAndGlyphs">64.00</text>
<text x="1369" y="453.6" textLength="37.2" lengthAdjust="spacingAndGlyphs">62.00</text>
<text x="1369" y="497.9" textLength="37.2" lengthAdjust="spacingAndGlyphs">60.00</text>
<text x="1369" y="542.2" textLength="37.2" lengthAdjust="spacingAndGlyphs">58.00</text>
<text x="1369" y="586.4" textLength="37.2" lengthAdjust="spacingAndGlyphs">56.00</text>
<text x="1369" y="630.7" textLength="37.2" lengthAdjust="spacingAndGlyphs">54.00</text>
<text x="1369" y="674.9" textLength="37.2" lengthAdjust="spacingAndGlyphs">52.00</text>
</g>
<path d="M1359 322.2 H1410.5 Q1413 322.2 1413 324.7 V340.5 Q1413 343.0 1410.5 343.0 H1359 Z" fill="#bdbdbd"/>
<text x="1370" y="337.4" font-size="15.8" fill="#131722" textLength="36.6" lengthAdjust="spacingAndGlyphs">67.20</text>
<path d="M1359 365.3 H1410.5 Q1413 365.3 1413 367.8 V383.6 Q1413 386.1 1410.5 386.1 H1359 Z" fill="#62b866"/>
<path d="M1359 374.5 H1410.5 Q1413 374.5 1413 377.0 V392.8 Q1413 395.3 1410.5 395.3 H1359 Z" fill="#f48fb1"/>
<path d="M1359 370.3 H1410.5 Q1413 370.3 1413 372.8 V388.7 Q1413 391.2 1410.5 391.2 H1359 Z" fill="#f23645"/>
<text x="1370" y="386.2" font-size="15.8" fill="#ffffff" textLength="36.6" lengthAdjust="spacingAndGlyphs">65.04</text>
<path d="M1325 510 H1358 V531 H1325 Q1322 531 1322 528 V513 Q1322 510 1325 510 Z" fill="#f23645"/>
<text x="1340.1" y="525.7" font-size="14.2" fill="#ffffff" text-anchor="middle" textLength="26" lengthAdjust="spacingAndGlyphs">NKE</text>
<path d="M1359 528.4 H1431 Q1434 528.4 1434 531.4 V546.4 Q1434 549.4 1431 549.4 H1359 Z" fill="#f23645"/>
<path d="M1359 510 H1410.2 Q1413.2 510 1413.2 513 V528 Q1413.2 531 1410.2 531 H1359 Z" fill="#f23645"/>
<text x="1370.6" y="526.3" font-size="15.8" fill="#ffffff" textLength="35" lengthAdjust="spacingAndGlyphs">58.71</text>
<text x="1370.6" y="544.5" font-size="15.8" fill="#ffffff" textLength="44.6" lengthAdjust="spacingAndGlyphs">108.65</text>
<text x="1417.2" y="544.5" font-size="14" fill="#ffffff" textLength="11.4" lengthAdjust="spacingAndGlyphs">M</text>
<g font-size="14.6" fill="#b2b5be" stroke="#b2b5be" stroke-width="0.2" text-anchor="middle">
<text x="144" y="731">Jul</text>
<text x="348.8" y="731">Aug</text>
<text x="544.5" y="731">Sep</text>
<text x="740.5" y="731">Oct</text>
<text x="955" y="731">Nov</text>
<text x="1132.3" y="731">Dec</text>
<text x="1337.4" y="731" font-weight="bold" font-size="15" fill="#c7c9d0">2026</text>
</g>
<circle cx="1263.3" cy="691.5" r="14.8" fill="#10141d"/>
<circle cx="1263.3" cy="691.5" r="12.85" fill="#131313" stroke="#ab47bc" stroke-width="2"/>
<path d="M1267.5 684.5 L1265.5 686.5 L1267.8 686.2 Z M1268.8 690 L1266.3 692.8 L1269.8 691 Z" fill="#ab47bc"/>
<path d="M116.5 678.7 L127.8 686.2 V700.1 Q127.8 703.1 124.8 703.1 H108.2 Q105.2 703.1 105.2 700.1 V686.2 Z" fill="#131313" stroke="#10141d" stroke-width="5" stroke-linejoin="round"/>
<path d="M116.5 678.7 L127.8 686.2 V700.1 Q127.8 703.1 124.8 703.1 H108.2 Q105.2 703.1 105.2 700.1 V686.2 Z" fill="#131313" stroke="#06866f" stroke-width="2" stroke-linejoin="round"/>
<text x="116.8" y="697.1" font-size="15.9" font-weight="bold" fill="#06866f" text-anchor="middle" textLength="8.0" lengthAdjust="spacingAndGlyphs">E</text>
<path d="M731.5 678.7 L742.8 686.2 V700.1 Q742.8 703.1 739.8 703.1 H723.2 Q720.2 703.1 720.2 700.1 V686.2 Z" fill="#131313" stroke="#10141d" stroke-width="5" stroke-linejoin="round"/>
<path d="M731.5 678.7 L742.8 686.2 V700.1 Q742.8 703.1 739.8 703.1 H723.2 Q720.2 703.1 720.2 700.1 V686.2 Z" fill="#131313" stroke="#06866f" stroke-width="2" stroke-linejoin="round"/>
<text x="731.8" y="697.1" font-size="15.9" font-weight="bold" fill="#06866f" text-anchor="middle" textLength="8.0" lengthAdjust="spacingAndGlyphs">E</text>
<path d="M1253.5 678.7 L1264.8 686.2 V700.1 Q1264.8 703.1 1261.8 703.1 H1245.2 Q1242.2 703.1 1242.2 700.1 V686.2 Z" fill="#131313" stroke="#10141d" stroke-width="5" stroke-linejoin="round"/>
<path d="M1253.5 678.7 L1264.8 686.2 V700.1 Q1264.8 703.1 1261.8 703.1 H1245.2 Q1242.2 703.1 1242.2 700.1 V686.2 Z" fill="#131313" stroke="#06866f" stroke-width="2" stroke-linejoin="round"/>
<text x="1253.8" y="697.1" font-size="15.9" font-weight="bold" fill="#06866f" text-anchor="middle" textLength="8.0" lengthAdjust="spacingAndGlyphs">E</text>
<circle cx="545.4" cy="691.4" r="14.6" fill="#10141d"/>
<circle cx="545.4" cy="691.4" r="12.6" fill="#0f0f0f" stroke="#2360ed" stroke-width="2"/>
<text x="546.0" y="697.1" font-size="15.9" font-weight="bold" fill="#2360ed" text-anchor="middle" textLength="9.1" lengthAdjust="spacingAndGlyphs">D</text>
<circle cx="1132.5" cy="691.4" r="14.6" fill="#10141d"/>
<circle cx="1132.5" cy="691.4" r="12.6" fill="#0f0f0f" stroke="#2360ed" stroke-width="2"/>
<text x="1133.1" y="697.1" font-size="15.9" font-weight="bold" fill="#2360ed" text-anchor="middle" textLength="9.1" lengthAdjust="spacingAndGlyphs">D</text>
<rect x="442" y="0" width="1" height="1" fill="#f23645" opacity="0.7"/><rect x="499" y="0" width="1" height="1" fill="#f23645" opacity="0.7"/>
<rect x="1363.5" y="-10" width="72.5" height="19.5" rx="4.5" fill="#0f0f0f" stroke="#404040" stroke-width="1"/>
<g fill="#d9d9d9">
<path d="M15.2 770.3 H30.8 V789.2 H22.9 V778 H15.2 Z"/>
<circle cx="36.8" cy="774.25" r="3.95"/>
<path d="M44.6 770.3 H53 L45.4 789.2 H36.8 Z"/>
<text x="62.2" y="789.3" font-size="25.6" font-weight="bold" textLength="151" lengthAdjust="spacingAndGlyphs">TradingView</text>
</g>
</svg>
</body></html>
